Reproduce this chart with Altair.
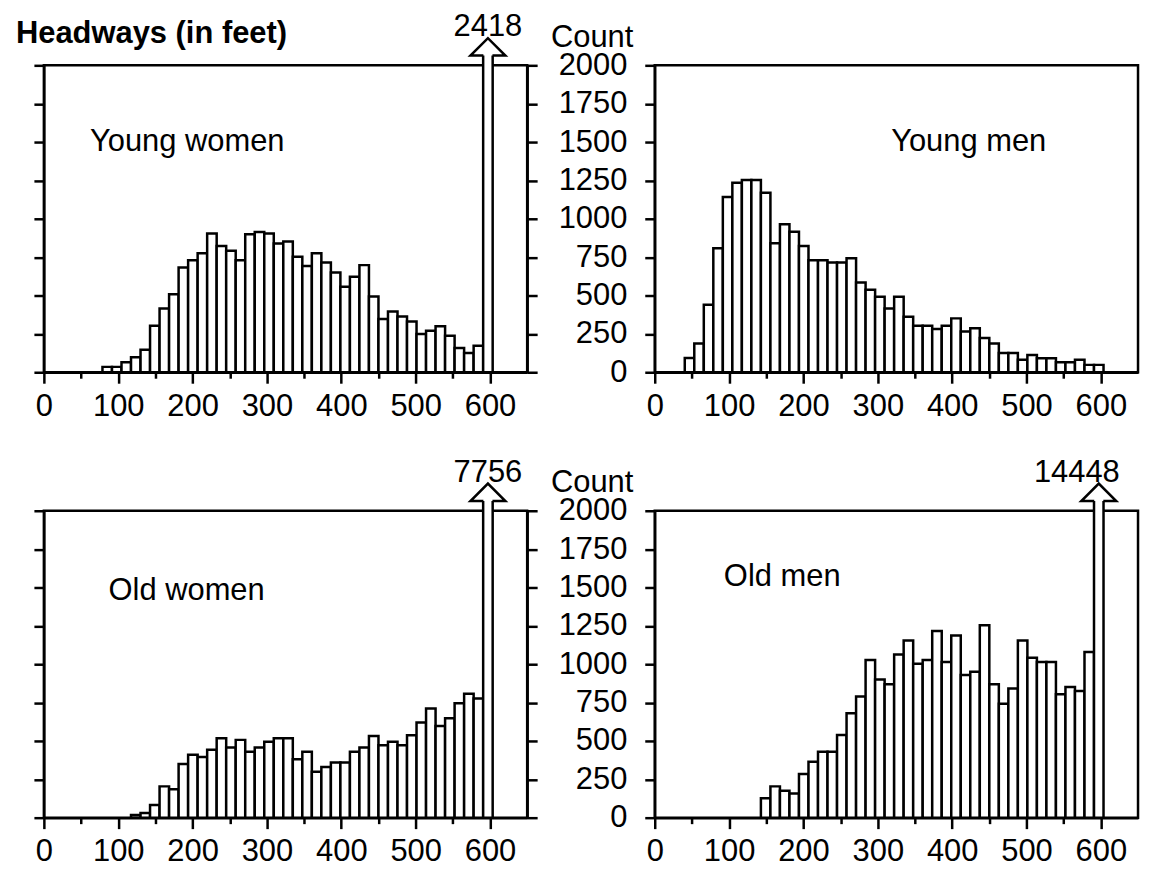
import altair as alt
import pandas as pd

# ---------------- data ----------------
BIN_ORIGIN = 2.0      # feet, left edge of bin 0
BIN_WIDTH = 12.8      # feet per bin
X_MAX = 650
Y_MAX = 2000

young_women_first_bin = 6
young_women_counts = [35, 35, 65, 97, 147, 303, 416, 509, 682, 730,
                      776, 904, 823, 791, 730, 899, 914, 904, 839, 852,
                      752, 693, 776, 715, 650, 557, 622, 698, 494, 347,
                      396, 364, 331, 249, 271, 299, 238, 158, 126, 173]
young_women_overflow = 2418

young_men_first_bin = 3
young_men_counts = [93, 188, 440, 808, 1142, 1235, 1252, 1252, 1170, 841,
                    964, 916, 823, 730, 730, 715, 715, 743, 585, 538,
                    492, 416, 492, 362, 303, 303, 282, 303, 351, 266,
                    286, 223, 188, 126, 126, 82, 113, 91, 91, 65,
                    65, 82, 48, 48]
young_men_overflow = None

old_women_first_bin = 9
old_women_counts = [17, 30, 82, 204, 186, 349, 410, 396, 442, 518,
                    457, 507, 429, 457, 494, 518, 518, 381, 429, 299,
                    331, 360, 360, 429, 457, 533, 472, 494, 472, 537,
                    620, 711, 598, 648, 745, 808, 776]
old_women_overflow = 7756

old_men_first_bin = 11
old_men_counts = [126, 204, 175, 158, 284, 364, 429, 429, 539, 680,
                  789, 1027, 901, 869, 1064, 1155, 1003, 1027, 1217, 1014,
                  1187, 929, 951, 1254, 869, 743, 841, 1155, 1042, 1014,
                  1014, 804, 851, 825, 1079]
old_men_overflow = 14448

panel_names = ["Young women", "Young men", "Old women", "Old men"]
label_x = [62, 318, 87, 93]          # feet
label_y = [1500, 1500, 1475, 1570]   # count
overflow_text_dx = [0, 0, 0, -22]

x_major_ticks = list(range(0, 601, 100))
x_minor_ticks = list(range(50, 600, 100))
y_tick_values = list(range(0, 2001, 250))

FONT = "Liberation Sans"
FS = 31
LW = 2.5


def panel(i, first_bin, counts, overflow, show_labels, title=None):
    n = len(counts)
    lo = [BIN_ORIGIN + (first_bin + k) * BIN_WIDTH for k in range(n)]
    bars = pd.DataFrame({"lo": lo, "hi": [v + BIN_WIDTH for v in lo],
                         "count": counts, "base": [0] * n})
    xs = alt.Scale(domain=[0, X_MAX], nice=False, zero=False)
    ys = alt.Scale(domain=[0, Y_MAX], nice=False, clamp=True)

    xaxis_major = alt.Axis(values=x_major_ticks, title=None, grid=False, tickSize=11,
                           labelPadding=8, labelFlush=False, labelOverlap=False,
                           labelFontSize=FS, labelFont=FONT, labelColor="black")
    xaxis_minor = alt.Axis(values=x_minor_ticks, title=None, grid=False, tickSize=6,
                           labels=False, domain=False, orient="bottom")
    if show_labels:
        yaxis = alt.Axis(values=y_tick_values, grid=False, tickSize=10, labelPadding=18,
                         labelFontSize=FS, labelFont=FONT, labelColor="black", format="d",
                         title="Count", titleAngle=0, titleAlign="right",
                         titleBaseline="alphabetic", titleX=-22, titleY=-19,
                         titleFontSize=FS, titleFontWeight="normal", titleFont=FONT,
                         titleColor="black")
    else:
        yaxis = alt.Axis(values=y_tick_values, grid=False, tickSize=10, labels=False, title=None)

    base = alt.Chart(bars)
    layer_bars = base.mark_bar(fill="white", stroke="black", strokeWidth=LW).encode(
        x=alt.X("lo:Q", scale=xs, axis=xaxis_major), x2="hi:Q",
        y=alt.Y("count:Q", scale=ys, axis=yaxis), y2="base:Q")

    lab = pd.DataFrame({"x": [label_x[i]], "y": [label_y[i]], "t": [panel_names[i]]})
    if show_labels:
        ylab_axis = None
    else:
        ylab_axis = alt.Axis(values=y_tick_values, grid=False, tickSize=10, labels=False,
                             title=None, orient="right")
    layer_lab = alt.Chart(lab).mark_text(align="left", baseline="middle", fontSize=FS,
                                         font=FONT, color="black").encode(
        x=alt.X("x:Q", scale=xs, axis=xaxis_minor),
        y=alt.Y("y:Q", scale=ys, axis=ylab_axis),
        text="t:N")

    layers = [layer_bars, layer_lab]
    if overflow is not None:
        k = first_bin + n
        olo = BIN_ORIGIN + k * BIN_WIDTH
        of = pd.DataFrame({"lo": [olo], "hi": [olo + BIN_WIDTH], "mid": [olo + BIN_WIDTH / 2],
                           "count": [overflow], "base": [0], "t": [str(overflow)]})
        ob = alt.Chart(of)
        shaft = ob.mark_bar(fill="white", stroke="black", strokeWidth=LW, yOffset=-14).encode(
            x=alt.X("lo:Q", scale=xs, axis=None), x2="hi:Q",
            y=alt.Y("count:Q", scale=ys, axis=None), y2="base:Q")
        head = ob.mark_point(shape="M-0.26,0.5L-1,0.5L0,-0.5L1,0.5L0.26,0.5",
                             size=1225, filled=True, fill="white", stroke="black",
                             strokeWidth=LW, opacity=1, yOffset=-18.5).encode(
            x=alt.X("mid:Q", scale=xs, axis=None),
            y=alt.Y("count:Q", scale=ys, axis=None))
        txt = ob.mark_text(baseline="alphabetic", align="center", fontSize=FS, font=FONT,
                           color="black", yOffset=-29, dx=overflow_text_dx[i]).encode(
            x=alt.X("mid:Q", scale=xs, axis=None),
            y=alt.Y("count:Q", scale=ys, axis=None),
            text="t:N")
        layers += [shaft, head, txt]

    if title is not None:
        ttl = alt.Chart(pd.DataFrame({"t": [title]})).mark_text(
            align="left", baseline="alphabetic", fontSize=FS, fontWeight="bold",
            font=FONT, color="black").encode(
            x=alt.value(-28), y=alt.value(-22), text="t:N")
        layers.append(ttl)

    ch = alt.layer(*layers).resolve_axis(y="independent", x="independent").properties(
        width=485, height=308)
    return ch


p1 = panel(0, young_women_first_bin, young_women_counts, young_women_overflow, False,
           title="Headways (in feet)")
p2 = panel(1, young_men_first_bin, young_men_counts, young_men_overflow, True)
p3 = panel(2, old_women_first_bin, old_women_counts, old_women_overflow, False)
p4 = panel(3, old_men_first_bin, old_men_counts, old_men_overflow, True)

chart = alt.concat(p1, p2, p3, p4, columns=2, spacing={"row": 139, "column": 128},
                   bounds="flush").properties(
    padding={"left": 6, "top": 0, "right": 5, "bottom": 5},
    background="white"
).configure_view(stroke="black", strokeWidth=LW).configure_axis(
    domainColor="black", domainWidth=LW, tickColor="black", tickWidth=LW,
    labelColor="black", labelFont=FONT, labelFontSize=FS
)

chart.save("out.html", embed_options={"renderer": "svg", "actions": False})
